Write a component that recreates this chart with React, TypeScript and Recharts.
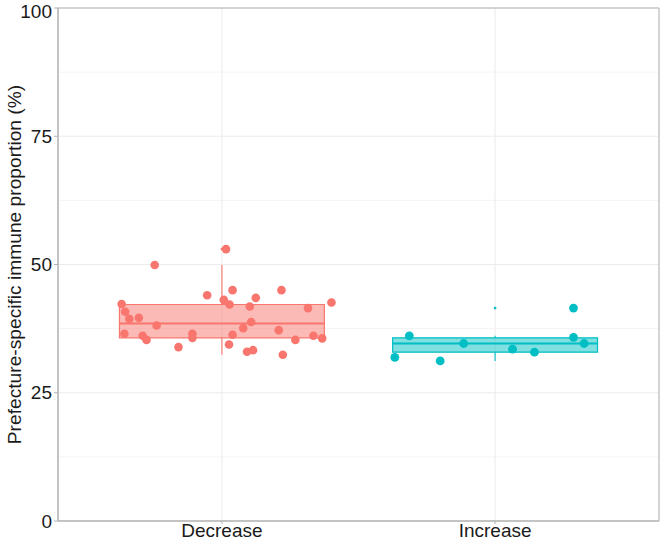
import React from "react";
import {
  ComposedChart,
  XAxis,
  YAxis,
  CartesianGrid,
  Scatter,
  ReferenceArea,
  ReferenceLine,
  Label,
} from "recharts";

// categories on the x axis (positions 1 and 2)
const groups = ["Decrease", "Increase"];
const groupPos = [1, 2];
const groupColors = ["#F8766D", "#00BFC4"];
const yTicks = [0, 25, 50, 75, 100];
const yMinor = [12.5, 37.5, 62.5, 87.5];

// box statistics per group
const whiskerLow = [32.4, 31.2];
const q1 = [35.7, 32.9];
const median = [38.5, 34.6];
const q3 = [42.2, 35.7];
const whiskerHigh = [49.9, 36.1];
const outlierX = [1, 2];
const outlierY = [53.0, 41.5];

// jittered points
const decreaseX = [
  1.015, 0.754, 0.946, 1.039, 1.218, 1.124, 1.007, 1.028, 0.633, 1.401, 1.102,
  1.315, 0.646, 0.661, 0.696, 0.761, 1.107, 1.078, 1.208, 0.643, 0.892, 0.892,
  0.71, 0.724, 1.039, 1.335, 1.367, 1.269, 0.841, 1.026, 1.092, 1.114, 1.223,
];
const decreaseY = [
  53.0, 49.9, 44.0, 45.0, 45.0, 43.5, 43.1, 42.2, 42.3, 42.6, 41.8, 41.5, 40.8,
  39.4, 39.6, 38.1, 38.8, 37.6, 37.2, 36.5, 36.5, 35.7, 36.1, 35.3, 36.3, 36.1,
  35.6, 35.3, 33.9, 34.4, 33.0, 33.3, 32.4,
];
const increaseX = [2.287, 2.287, 2.326, 1.686, 1.885, 2.064, 2.144, 1.633, 1.799];
const increaseY = [41.5, 35.8, 34.6, 36.1, 34.6, 33.5, 32.9, 31.9, 31.2];

const decreaseData = decreaseX.map((x, i) => ({ x, y: decreaseY[i] }));
const increaseData = increaseX.map((x, i) => ({ x, y: increaseY[i] }));
const outlierData = outlierX.map((x, i) => ({ x, y: outlierY[i], c: groupColors[i] }));

const BOX_HALF = 0.375;
const border = "#b3b3b3";

const dot = (fill: string, r: number) => (props: any) =>
  <circle cx={props.cx} cy={props.cy} r={r} fill={fill} />;

export default function App() {
  return (
    <div
      style={{
        position: "absolute",
        left: 0,
        top: 0,
        fontFamily: "'Liberation Sans', Arial, sans-serif",
      }}
    >
      <ComposedChart
        width={662}
        height={540}
        margin={{ top: 8, right: 3, bottom: 0, left: 0 }}
      >
        {/* minor grid first, major grid on top */}
        <CartesianGrid stroke="#f4f4f4" vertical={false} horizontalValues={yMinor} />
        <CartesianGrid stroke="#ebebeb" strokeWidth={1} />
        <XAxis
          type="number"
          dataKey="x"
          domain={[0.4, 2.6]}
          ticks={groupPos}
          allowDataOverflow
          tickFormatter={(v: number) => groups[v - 1]}
          height={19}
          tickSize={3}
          tickMargin={0}
          axisLine={{ stroke: border }}
          tickLine={{ stroke: border }}
          tick={{ fontSize: 19, fill: "#1a1a1a" }}
        />
        <YAxis
          type="number"
          dataKey="y"
          domain={[0, 100]}
          ticks={yTicks}
          width={58}
          tickSize={4}
          tickMargin={2}
          axisLine={{ stroke: border }}
          tickLine={{ stroke: border }}
          tick={{ fontSize: 19, fill: "#1a1a1a" }}
        >
          <Label
            content={({ viewBox }: any) => {
              const cy = viewBox.y + viewBox.height / 2;
              return (
                <text
                  x={21}
                  y={cy}
                  transform={`rotate(-90, 21, ${cy})`}
                  textAnchor="middle"
                  fontSize={19.2}
                  fill="#1a1a1a"
                >
                  Prefecture-specific immune proportion (%)
                </text>
              );
            }}
          />
        </YAxis>
        <ReferenceArea x1={0.4} x2={2.6} y1={0} y2={100} fill="none" stroke={border} strokeWidth={1} />

        {groupPos.map((p, i) => (
          <ReferenceLine
            key={`wl${i}`}
            segment={[{ x: p, y: whiskerLow[i] }, { x: p, y: q1[i] }]}
            stroke={groupColors[i]}
            strokeWidth={1.1}
          />
        ))}
        {groupPos.map((p, i) => (
          <ReferenceLine
            key={`wh${i}`}
            segment={[{ x: p, y: q3[i] }, { x: p, y: whiskerHigh[i] }]}
            stroke={groupColors[i]}
            strokeWidth={1.1}
          />
        ))}
        {groupPos.map((p, i) => (
          <ReferenceArea
            key={`box${i}`}
            x1={p - BOX_HALF}
            x2={p + BOX_HALF}
            y1={q1[i]}
            y2={q3[i]}
            fill={groupColors[i]}
            fillOpacity={0.5}
            stroke={groupColors[i]}
            strokeOpacity={1}
            strokeWidth={1.2}
          />
        ))}
        {groupPos.map((p, i) => (
          <ReferenceLine
            key={`med${i}`}
            segment={[{ x: p - BOX_HALF, y: median[i] }, { x: p + BOX_HALF, y: median[i] }]}
            stroke={groupColors[i]}
            strokeWidth={2}
          />
        ))}

        <Scatter
          data={outlierData}
          isAnimationActive={false}
          shape={(props: any) => (
            <circle cx={props.cx} cy={props.cy} r={1.4} fill={props.payload.c} />
          )}
        />
        <Scatter data={decreaseData} isAnimationActive={false} shape={dot(groupColors[0], 4.3)} />
        <Scatter data={increaseData} isAnimationActive={false} shape={dot(groupColors[1], 4.4)} />
      </ComposedChart>
    </div>
  );
}
